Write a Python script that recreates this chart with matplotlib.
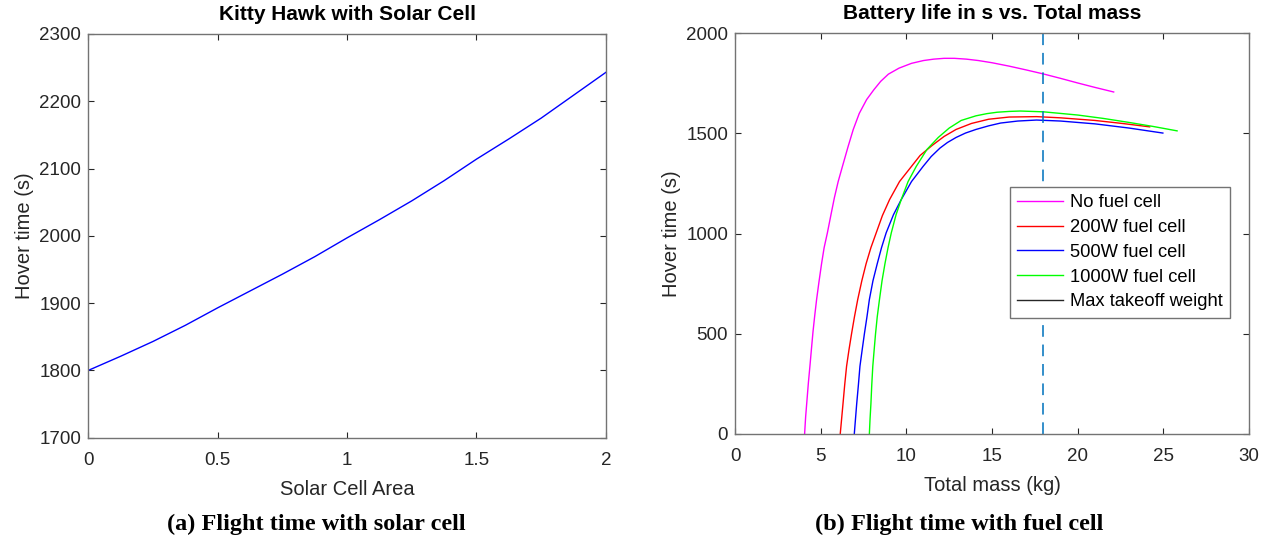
import numpy as np
import matplotlib.pyplot as plt
from matplotlib.lines import Line2D

# --- left panel: hover time vs solar cell area
solar_area = [0, 0.125, 0.25, 0.375, 0.5, 0.625, 0.75, 0.875, 1.0,
              1.125, 1.25, 1.375, 1.5, 1.625, 1.75, 1.875, 2.0]
solar_hover = [1800, 1821, 1843, 1867, 1893, 1918, 1943, 1969, 1997,
               2024, 2052, 2082, 2114, 2144, 2175, 2209, 2243]

# --- right panel: hover time vs total mass
mass_none = [4.06, 4.12, 4.2, 4.28, 4.37, 4.46, 4.55, 4.65, 4.76, 4.9, 5.05, 5.2,
             5.39, 5.6, 5.8, 6.02, 6.27, 6.6, 6.9, 7.25, 7.68, 8.1, 8.5, 8.95,
             9.57, 10.3, 11.0, 11.6, 12.2, 12.8, 13.5, 14.2, 15.0, 16.0, 17.0,
             18.0, 19.0, 20.0, 21.0, 22.1]
hover_none = [0, 85, 170, 255, 338, 425, 510, 590, 671, 760, 850, 930,
              1004, 1095, 1180, 1260, 1336, 1435, 1520, 1600, 1669, 1718, 1760, 1796,
              1826, 1850, 1864, 1871, 1875, 1875, 1871, 1864, 1853, 1836, 1817,
              1797, 1775, 1752, 1730, 1707]

mass_200 = [6.14, 6.22, 6.3, 6.4, 6.51, 6.65, 6.8, 6.97, 7.16, 7.4, 7.65, 7.93,
            8.24, 8.6, 9.02, 9.6, 10.2, 10.8, 11.5, 12.2, 12.9, 13.8, 14.8,
            16.0, 17.6, 19.0, 21.0, 22.6, 24.2]
hover_200 = [0, 75, 150, 245, 338, 420, 500, 585, 671, 765, 850, 930,
             1004, 1090, 1170, 1260, 1325, 1390, 1440, 1485, 1520, 1550, 1571,
             1582, 1584, 1578, 1565, 1550, 1533]

mass_500 = [6.96, 7.03, 7.1, 7.2, 7.29, 7.42, 7.55, 7.7, 7.84, 8.05, 8.3, 8.55,
            8.82, 9.25, 9.7, 10.3, 10.98, 11.45, 11.96, 12.4, 12.9, 13.45, 14.06,
            14.8, 15.5, 16.5, 17.6, 19.0, 21.0, 23.0, 24.97]
hover_500 = [0, 75, 150, 245, 338, 420, 500, 585, 671, 765, 850, 930,
             1004, 1095, 1170, 1260, 1336, 1385, 1427, 1455, 1480, 1502, 1520,
             1538, 1552, 1562, 1567, 1562, 1548, 1527, 1502]

mass_1000 = [7.84, 7.88, 7.93, 7.98, 8.04, 8.12, 8.2, 8.3, 8.43, 8.58, 8.75, 8.93,
             9.12, 9.4, 9.7, 10.1, 10.58, 11.2, 11.86, 12.5, 13.2, 14.06, 14.7,
             15.3, 16.0, 16.65, 18.0, 20.0, 21.5, 23.0, 24.4, 25.8]
hover_1000 = [0, 75, 150, 245, 338, 420, 500, 585, 671, 765, 850, 930,
              1004, 1095, 1170, 1260, 1336, 1420, 1480, 1527, 1565, 1588, 1599,
              1606, 1610, 1612, 1608, 1592, 1575, 1555, 1535, 1513]

max_takeoff = 18

plt.rcParams['font.family'] = ['Liberation Sans', 'DejaVu Sans']
txtcol = (0.15, 0.15, 0.15)
spinecol = '0.45'

fig = plt.figure(figsize=(12.66, 5.36), dpi=100)
ax1 = fig.add_axes([0.0697, 0.1834, 0.4089, 0.7532])
ax2 = fig.add_axes([0.5806, 0.1903, 0.406, 0.7476])

def style(ax):
    for s in ax.spines.values():
        s.set_color(spinecol)
        s.set_linewidth(1.0)
    ax.tick_params(direction='in', length=4, width=0.8, color=txtcol,
                   labelcolor=txtcol, labelsize=13.5, top=True, right=True)
    ax.tick_params(axis='x', pad=10)
    ax.tick_params(axis='y', pad=5)

ax1.plot(solar_area, solar_hover, color='blue', lw=1.0)
ax1.set_xlim(0, 2)
ax1.set_ylim(1700, 2300)
ax1.set_xticks([0, 0.5, 1, 1.5, 2])
ax1.set_xticklabels(['0', '0.5', '1', '1.5', '2'])
ax1.set_title('Kitty Hawk with Solar Cell', fontsize=15, fontweight='bold', pad=10)
ax1.set_xlabel('Solar Cell Area', fontsize=14.5, color=txtcol, labelpad=8)
ax1.set_ylabel('Hover time (s)', fontsize=14.5, color=txtcol, labelpad=4)
style(ax1)

series = [
    (mass_none, hover_none, '#ff00ff', 'No fuel cell'),
    (mass_200, hover_200, '#ff0000', '200W fuel cell'),
    (mass_500, hover_500, '#0000ff', '500W fuel cell'),
    (mass_1000, hover_1000, '#00ff00', '1000W fuel cell'),
]
handles = []
for mx, hy, c, lab in series:
    h, = ax2.plot(mx, hy, color=c, lw=1.0, label=lab)
    handles.append(h)
ax2.axvline(max_takeoff, color=(0, 0.447, 0.741), lw=1.4, ls=(0, (6, 4)), alpha=0.8)
handles.append(Line2D([], [], color=txtcol, lw=1.0, label='Max takeoff weight'))

ax2.set_xlim(0, 30)
ax2.set_ylim(0, 2000)
ax2.set_xticks(range(0, 31, 5))
ax2.set_yticks(range(0, 2001, 500))
ax2.set_title('Battery life in s vs. Total mass', fontsize=15, fontweight='bold', pad=10)
ax2.set_xlabel('Total mass (kg)', fontsize=14.5, color=txtcol, labelpad=8)
ax2.set_ylabel('Hover time (s)', fontsize=14.5, color=txtcol, labelpad=4)
style(ax2)
leg = ax2.legend(handles=handles, loc='upper left', bbox_to_anchor=(0.535, 0.616),
                 fontsize=13.2, frameon=True, fancybox=False, handlelength=2.5,
                 handletextpad=0.35, labelspacing=0.42, borderpad=0.4,
                 borderaxespad=0, framealpha=1)
leg.get_frame().set_edgecolor(spinecol)
leg.get_frame().set_linewidth(1.0)
for t in leg.get_texts():
    t.set_color('black')

fig.text(0.2496, 0.012, '(a) Flight time with solar cell', ha='center',
         family=['Liberation Serif'], fontweight='bold', fontsize=17.5)
fig.text(0.7575, 0.012, '(b) Flight time with fuel cell', ha='center',
         family=['Liberation Serif'], fontweight='bold', fontsize=17.5)

fig.savefig('out.png', dpi=100)
